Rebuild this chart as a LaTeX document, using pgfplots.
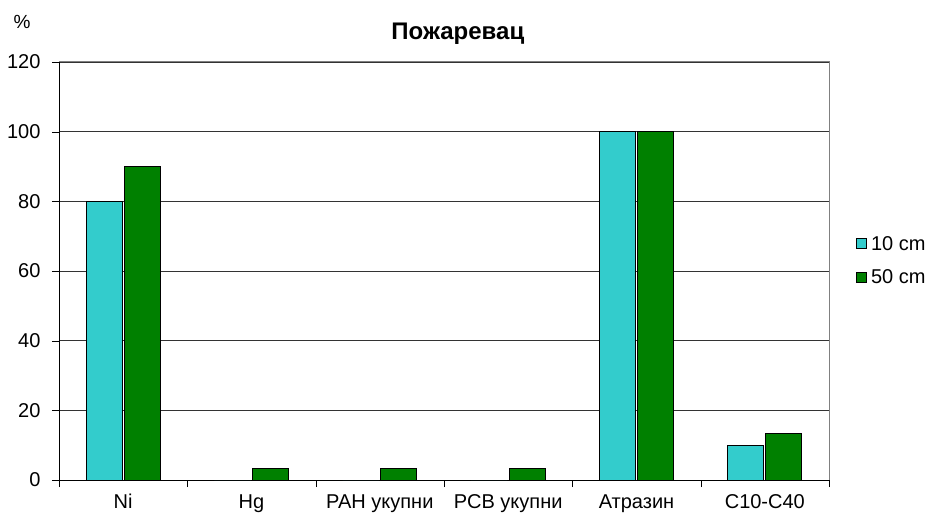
\documentclass[border=0pt]{standalone}
\usepackage{pgfplots}
\pgfplotsset{compat=1.18}
\usepackage{fontspec}
\setmainfont{Liberation Sans}
\definecolor{c10}{HTML}{33CCCC}
\definecolor{c50}{HTML}{008000}
\definecolor{frame}{HTML}{808080}

\begin{document}
\begin{tikzpicture}[x=1pt,y=1pt]
    \useasboundingbox (0,0) rectangle (926,512);
    \begin{axis}[
        at={(59pt,32pt)},
        anchor=south west,
        scale only axis,
        width=770pt,
        height=418pt,
        ybar,
        bar width=36pt,
        xmin=-0.5, xmax=5.5,
        ymin=0, ymax=120,
        ytick={0,20,...,120},
        xtick={0,...,5},
        xticklabels={Ni, Hg, PAH укупни, PCB укупни, Атразин, C10-C40},
        minor xtick={-0.5,0.5,...,5.5},
        major x tick style={draw=none},
        minor tick length=7pt,
        major tick length=7pt,
        axis x line*=bottom,
        axis y line*=left,
        x axis line style={-, black},
        y axis line style={-, black},
        tick style={black},
        xtick pos=bottom,
        ytick pos=left,
        tick align=outside,
        ymajorgrids,
        grid style={black!80, line width=0.7pt},
        font=\fontsize{20}{24}\selectfont,
        tick label style={font=\fontsize{20}{24}\selectfont},
        /pgf/number format/assume math mode=true,
        xticklabel style={anchor=base, yshift=-21pt},
        yticklabel style={xshift=-8pt},
        legend style={
            draw=none, fill=none,
            at={(1.035,0.525)}, anchor=west,
            inner sep=0pt,
            row sep=14pt,
            font=\fontsize{20}{24}\selectfont,
            /tikz/every odd column/.append style={column sep=2pt},
        },
        legend cell align=left,
        legend image code/.code={\draw[#1, bar width=0pt, line width=0.9pt] (0pt,-5pt) rectangle (10pt,5pt);},
        clip=false,
    ]
        \addplot[fill=c10, draw=black, line width=1pt] coordinates {
            (0,80) (1,0) (2,0) (3,0) (4,100) (5,10)
        };
        \addplot[fill=c50, draw=black, line width=1pt] coordinates {
            (0,90) (1,3.3) (2,3.3) (3,3.3) (4,100) (5,13.3)
        };
        \legend{10 cm, 50 cm}

        \draw[frame, line width=1pt] (rel axis cs:0,1) -- (rel axis cs:1,1) -- (rel axis cs:1,0);
        \node[anchor=base, font=\bfseries\fontsize{24}{28}\selectfont]
            at (rel axis cs:0.518,1.055) {Пожаревац};
        \node[font=\fontsize{19}{22}\selectfont]
            at (rel axis cs:-0.048,1.096) {\%};
    \end{axis}
\end{tikzpicture}
\end{document}
